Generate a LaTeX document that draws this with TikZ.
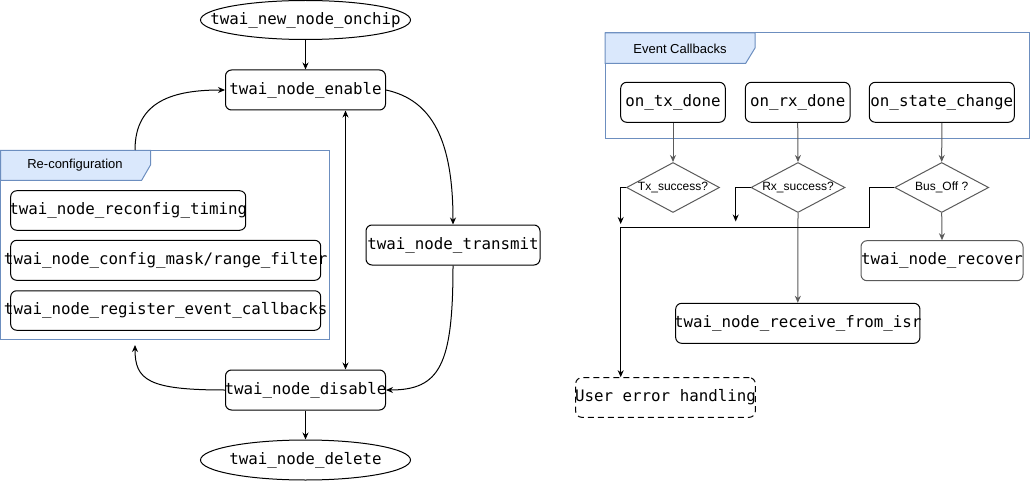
\documentclass[tikz,border=0pt]{standalone}
\usepackage{fontspec}
\setmainfont{Liberation Sans}
\newfontfamily\monof{DejaVu Sans Mono}
\usetikzlibrary{shapes.geometric,arrows.meta,calc}
\definecolor{grpblue}{HTML}{6C8EBF}
\definecolor{grpfill}{HTML}{DAE8FC}
\definecolor{lgray}{HTML}{5A5A5A}
\newcommand{\ct}[1]{\makebox[0pt][c]{#1}}
\tikzset{
  arr/.style={-{Stealth[length=7pt,width=6pt]}, line width=1pt},
  box/.style={draw, rounded corners=6pt, inner sep=0pt, line width=1pt, font=\monof\fontsize{15.8}{18}\selectfont},
  ell/.style={draw, ellipse, inner sep=0pt, line width=1pt, font=\monof\fontsize{15.8}{18}\selectfont},
  dia/.style={draw=lgray, diamond, inner sep=0pt, line width=1pt, font=\fontsize{12}{14}\selectfont},
  grp/.style={draw=grpblue, line width=1pt, inner sep=0pt},
  hdr/.style={draw=grpblue, fill=grpfill, line width=1pt},
}
\begin{document}
\begin{tikzpicture}[x=1pt,y=-1pt]
\useasboundingbox (0,0) rectangle (1030,481);
% ---------- left part ----------
\node[grp, minimum width=329pt, minimum height=189pt] (reconf) at (165,245) {};
\draw[hdr] (0.5,150.5) -- (150.5,150.5) -- (150.5,165) -- (141.5,180.5) -- (0.5,180.5) -- cycle;
\node[font=\fontsize{13}{15}\selectfont] (reconfl) at (75,165.5) {Re-configuration};

\node[ell, minimum width=210pt, minimum height=39pt] (onchip) at (305.5,20) {\ct{twai\_new\_node\_onchip}};
\node[box, minimum width=160pt, minimum height=40pt] (enable) at (305.5,90) {\ct{twai\_node\_enable}};
\node[box, minimum width=174pt, minimum height=40pt] (transmit) at (453,245) {\ct{twai\_node\_transmit}};
\node[box, minimum width=160pt, minimum height=40pt] (disable) at (305.5,390) {\ct{twai\_node\_disable}};
\node[ell, minimum width=210pt, minimum height=40pt] (delete) at (305.5,460) {\ct{twai\_node\_delete}};

\node[box, minimum width=235pt, minimum height=39.5pt] (timing) at (128.2,210.5) {\ct{twai\_node\_reconfig\_timing}};
\node[box, minimum width=310pt, minimum height=40pt] (mask) at (165.7,260.3) {\ct{twai\_node\_config\_mask/range\_filter}};
\node[box, minimum width=310pt, minimum height=39.5pt] (regcb) at (165.7,310.5) {\ct{twai\_node\_register\_event\_callbacks}};

\draw[arr] (onchip.south) -- (enable.north);
\draw[arr] (disable.south) -- (delete.north);
\draw[{Stealth[length=7pt,width=6pt]}-{Stealth[length=7pt,width=6pt]}, line width=1pt] ([xshift=40pt]enable.south) -- ([xshift=40pt]disable.north);
\draw[arr] (enable.east) .. controls (432,100) and (453,140) .. (transmit.north);
\draw[arr] (transmit.south) .. controls (453,365) and (440,390) .. (disable.east);
\coordinate (reconfbot) at (135,345);
\coordinate (reconftop) at (135,150);
\draw[arr] (disable.west) .. controls (148,390) and (135,380) .. (reconfbot);
\draw[arr] (reconftop) .. controls (135,100) and (175,90) .. (enable.west);

% ---------- right part ----------
\node[grp, minimum width=424pt, minimum height=106pt] (events) at (817,86) {};
\draw[hdr] (605,33) -- (755,33) -- (755,48) -- (745.7,63.3) -- (605,63.3) -- cycle;
\node[font=\fontsize{13}{15}\selectfont] (eventsl) at (680,48.5) {Event Callbacks};

\node[box, minimum width=104.6pt, minimum height=40pt] (txd) at (673,102.3) {\ct{on\_tx\_done}};
\node[box, minimum width=104.7pt, minimum height=40pt] (rxd) at (797.7,102.3) {\ct{on\_rx\_done}};
\node[box, minimum width=145pt, minimum height=40pt] (scd) at (941.8,102.3) {\ct{on\_state\_change}};

\node[dia, minimum width=93pt, minimum height=50pt] (txq) at (673,187.5) {\ct{Tx\_success?}};
\node[dia, minimum width=94pt, minimum height=50pt] (rxq) at (798,187.5) {\ct{Rx\_success?}};
\node[dia, minimum width=94pt, minimum height=50pt] (busq) at (941.7,187.5) {\ct{Bus\_Off ?}};

\node[box, draw=lgray, minimum width=162pt, minimum height=40pt] (recover) at (942,260.7) {\ct{twai\_node\_recover}};
\node[box, minimum width=244.3pt, minimum height=40pt] (isr) at (797.8,323.3) {\ct{twai\_node\_receive\_from\_isr}};
\node[box, dashed, dash pattern=on 6pt off 4pt, minimum width=179.6pt, minimum height=39.6pt] (uerr) at (665.5,397.5) {\ct{User error handling}};

\draw[arr, lgray] (txd.south) -- (txq.north);
\draw[arr, lgray] (rxd.south) -- (rxq.north);
\draw[arr, lgray] (scd.south) -- (busq.north);
\draw[arr, lgray] (rxq.south) -- (isr.north);
\draw[arr, lgray] (busq.south) -- (recover.north);

\coordinate (txend) at (620.7,224);
\coordinate (rxend) at (735.7,221.5);
\draw[arr] (txq.west) -| (txend);
\draw[arr] (rxq.west) -| (rxend);
\coordinate (b1) at (869.3,227.3);
\coordinate (b2) at (620.7,227.3);
\draw[arr] (busq.west) -| (b1) -- (b2) -- (b2 |- uerr.north);
\end{tikzpicture}
\end{document}
